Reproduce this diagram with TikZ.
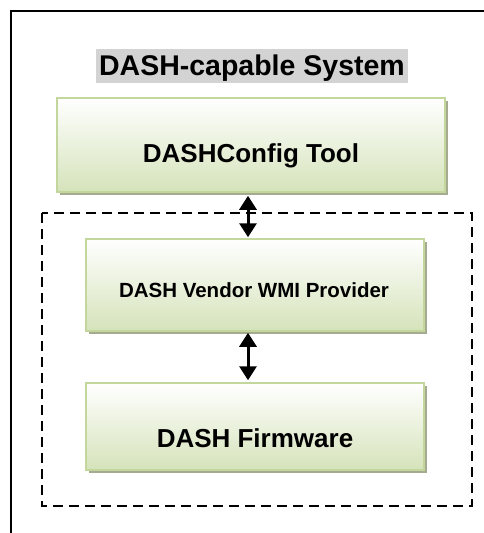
\documentclass[tikz,border=0pt]{standalone}
\usepackage{fontspec}
\setmainfont{Liberation Sans}
\usepackage{tikz}
\usetikzlibrary{positioning,shadows,arrows.meta}

\definecolor{boxedge}{RGB}{195,214,155}
\definecolor{boxfill}{RGB}{213,227,186}
\definecolor{boxshade}{RGB}{165,170,145}
\definecolor{titlegray}{RGB}{211,211,211}

\tikzset{
  greenbox/.style={draw=boxedge, line width=1.5pt, top color=white, bottom color=boxfill,
    general shadow={fill=boxshade, shadow xshift=3pt, shadow yshift=-3pt}},
  boxtext/.style={anchor=base, inner sep=0pt, font=\bfseries},
  biarrow/.style={line width=3pt, {Triangle[width=17pt,length=14pt]}-{Triangle[width=17pt,length=14pt]}}
}

\begin{document}
\begin{tikzpicture}[x=1pt, y=-1pt]
\useasboundingbox (0,0) rectangle (484,533);
\draw[line width=1.6pt] (11,533) -- (11,11) -- (484,11);
\node[fill=titlegray, minimum width=312pt, minimum height=34pt, inner sep=0pt] (titlebg) at (252,66) {};
\node[boxtext, font=\fontsize{28.5}{30}\selectfont\bfseries] (title) at (252,75) {DASH-capable System};
\node[greenbox, minimum width=388pt, minimum height=94pt] (cfg) at (251,145) {};
\node[boxtext, font=\fontsize{26}{28}\selectfont\bfseries] (cfgtxt) at (251,162) {DASHConfig Tool};
\draw[line width=2.5pt, dash pattern=on 10pt off 6pt] (42,213) rectangle (472,506);
\node[greenbox, minimum width=338pt, minimum height=92pt] (wmi) at (255,285) {};
\node[boxtext, font=\fontsize{20.5}{23}\selectfont\bfseries] (wmitxt) at (254,297) {DASH Vendor WMI Provider};
\node[greenbox, minimum width=338pt, minimum height=87pt] (fw) at (255,426.5) {};
\node[boxtext, font=\fontsize{26}{28}\selectfont\bfseries] (fwtxt) at (255,447) {DASH Firmware};
\coordinate (ax) at (248,0);
\draw[biarrow] ([yshift=-3pt]cfg.south -| ax) -- ([yshift=1pt]wmi.north -| ax);
\draw[biarrow] ([yshift=-1pt]wmi.south -| ax) -- ([yshift=2pt]fw.north -| ax);
\end{tikzpicture}
\end{document}
